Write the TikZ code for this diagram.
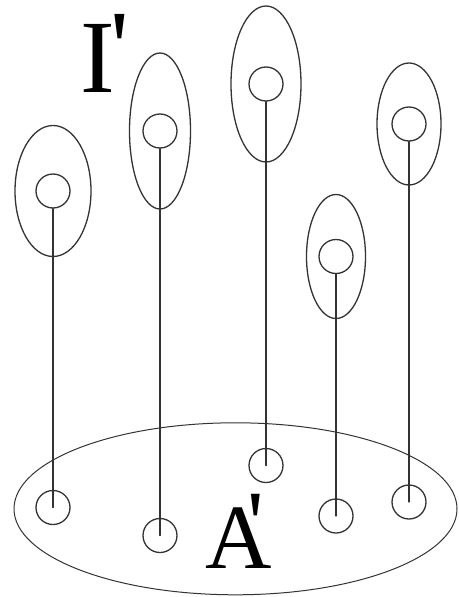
\documentclass[tikz,border=0pt]{standalone}
\usepackage{fontspec}
\setmainfont{Liberation Serif}
\usetikzlibrary{shapes.geometric}
\definecolor{qqqqqq}{rgb}{0.2,0.2,0.2}

\begin{document}
\begin{tikzpicture}[line cap=round,line join=round,x=1pt,y=-1pt,
    spot/.style={circle,draw=qqqqqq,line width=1.3pt,inner sep=0pt,minimum size=34pt},
    hull/.style={ellipse,draw=qqqqqq,line width=1.3pt,inner sep=0pt},
    tag/.style={inner sep=0pt,anchor=base west}]
        \useasboundingbox (0,0) rectangle (458,597);
        % the set A' with its points
        \node [hull,line width=1pt,minimum width=443pt,minimum height=172pt] (A) at (235.5,508.8) {};
        \node [spot] (a1) at (53,507.5) {};
        \node [spot] (a2) at (160,535.5) {};
        \node [spot] (a3) at (266,465.5) {};
        \node [spot] (a4) at (336,516) {};
        \node [spot] (a5) at (409,502) {};
        % the fibres I'
        \node [spot] (i1) at (53,191) {};
        \node [spot] (i2) at (160,131) {};
        \node [spot] (i3) at (266,84) {};
        \node [spot] (i4) at (336,256.5) {};
        \node [spot] (i5) at (409,124) {};
        \node [hull,minimum width=76pt,minimum height=131pt] (e1) at (i1) {};
        \node [hull,minimum width=61pt,minimum height=156pt] (e2) at (i2) {};
        \node [hull,minimum width=70pt,minimum height=156pt] (e3) at (i3) {};
        \node [hull,minimum width=59pt,minimum height=124pt] (e4) at (i4) {};
        \node [hull,minimum width=64pt,minimum height=122pt] (e5) at (i5) {};
        \draw [line width=1.3pt,color=qqqqqq] (i1.south)-- (a1.center);
        \draw [line width=1.3pt,color=qqqqqq] (i2.south)-- (a2.center);
        \draw [line width=1.3pt,color=qqqqqq] (i3.south)-- (a3.center);
        \draw [line width=1.3pt,color=qqqqqq] (i4.south)-- (a4.center);
        \draw [line width=1.3pt,color=qqqqqq] (i5.south)-- (a5.center);
        \node [tag,font=\fontsize{104}{104}\selectfont] (Ilabel) at (80,92) {I\kern-4pt\raisebox{10pt}{\textquotesingle}};
        \node [tag,font=\fontsize{92}{92}\selectfont] (Alabel) at (205.3,568.3) {A\kern-24pt\raisebox{14pt}{\textquotesingle}};
\end{tikzpicture}
\end{document}
